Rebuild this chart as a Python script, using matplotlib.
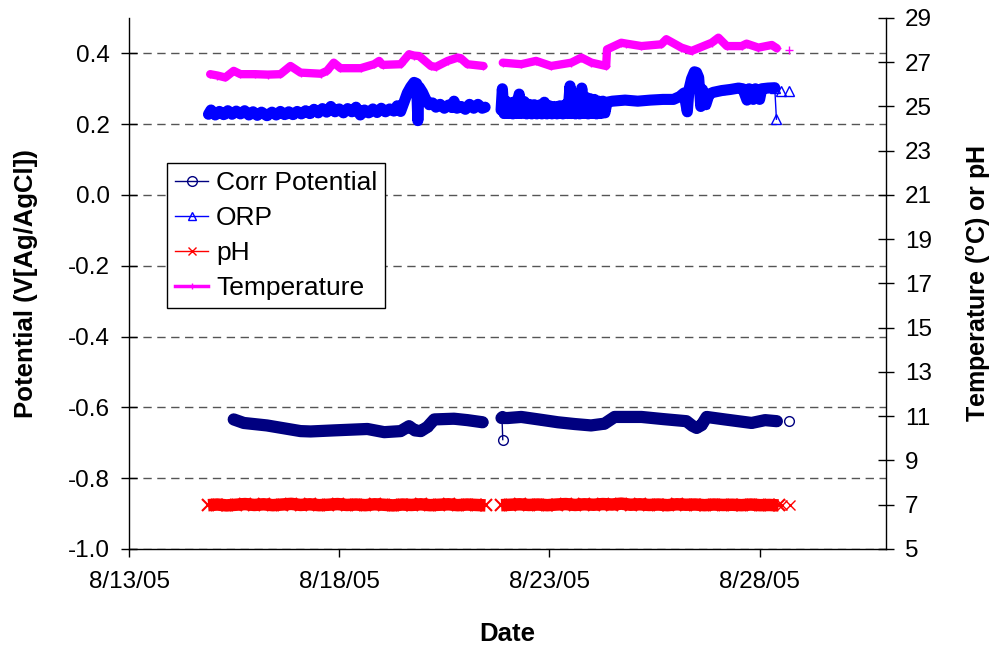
import numpy as np
import pandas as pd
import matplotlib
matplotlib.use("Agg")
import matplotlib.pyplot as plt
from matplotlib.lines import Line2D
from matplotlib.ticker import FixedLocator, FuncFormatter
import matplotlib.dates as mdates

plt.rcParams['font.family'] = ['Liberation Sans', 'DejaVu Sans']
plt.rcParams['axes.unicode_minus'] = False
plt.rcParams['mathtext.fontset'] = 'custom'
plt.rcParams['mathtext.rm'] = 'Liberation Sans'
plt.rcParams['mathtext.bf'] = 'Liberation Sans:bold'

# ---- logger data (time in days after 8/13/05 00:00) ----
START = pd.Timestamp('2005-08-13')

# Corrosion potential, V vs Ag/AgCl
corr_days_a = [2.49, 2.73, 3.28, 4.08, 4.32, 4.87, 5.67, 6.07, 6.46, 6.66, 6.80, 6.94,
               7.10, 7.26, 7.73, 8.05, 8.41]
corr_vals_a = [-0.634, -0.644, -0.651, -0.667, -0.668, -0.665, -0.661, -0.670, -0.667,
               -0.653, -0.665, -0.667, -0.655, -0.634, -0.632, -0.636, -0.642]
corr_days_b = [8.86, 9.01, 9.33, 9.80, 10.20, 10.60, 10.99, 11.31, 11.55, 12.19, 12.70,
               13.26, 13.40, 13.50, 13.62, 13.74, 14.17, 14.81, 15.13, 15.41]
corr_vals_b = [-0.630, -0.630, -0.627, -0.635, -0.642, -0.647, -0.651, -0.646, -0.627,
               -0.627, -0.633, -0.639, -0.652, -0.658, -0.650, -0.627, -0.634, -0.644,
               -0.636, -0.639]
corr_spike_days = [8.87, 8.89]
corr_spike_vals = [-0.624, -0.691]
corr_tail_days = [15.71]
corr_tail_vals = [-0.639]

# ORP, V vs Ag/AgCl
orp_days_a = [1.89, 1.95, 2.05, 2.15, 2.25, 2.35, 2.45, 2.55, 2.65, 2.75, 2.85, 2.95,
              3.05, 3.15, 3.28, 3.40, 3.50, 3.60, 3.70, 3.80, 3.90, 4.00, 4.10, 4.20,
              4.30, 4.40, 4.50, 4.60, 4.70, 4.80, 4.90, 5.00, 5.10, 5.20, 5.30, 5.40,
              5.50, 5.60, 5.70, 5.80, 5.90, 6.00, 6.10, 6.20, 6.30, 6.38, 6.46, 6.55,
              6.62, 6.70, 6.78, 6.84, 6.87, 6.90, 6.98, 7.05, 7.14, 7.22, 7.30, 7.40,
              7.50, 7.60, 7.68, 7.73, 7.80, 7.90, 8.00, 8.10, 8.20, 8.30, 8.40, 8.47]
orp_vals_a = [0.228, 0.240, 0.226, 0.236, 0.227, 0.238, 0.228, 0.237, 0.229, 0.238,
              0.226, 0.235, 0.225, 0.234, 0.224, 0.234, 0.226, 0.236, 0.227, 0.235,
              0.227, 0.236, 0.229, 0.238, 0.230, 0.242, 0.232, 0.244, 0.234, 0.250,
              0.235, 0.243, 0.232, 0.244, 0.235, 0.248, 0.226, 0.240, 0.232, 0.243,
              0.233, 0.245, 0.235, 0.243, 0.237, 0.252, 0.236, 0.265, 0.288, 0.305,
              0.318, 0.315, 0.210, 0.305, 0.290, 0.272, 0.255, 0.260, 0.248, 0.256,
              0.245, 0.254, 0.247, 0.265, 0.245, 0.250, 0.242, 0.256, 0.245, 0.256,
              0.245, 0.248]
orp_days_b = [8.85, 8.88, 8.92, 8.97, 9.02, 9.08, 9.13, 9.18, 9.23, 9.28, 9.33, 9.40,
              9.46, 9.52, 9.58, 9.64, 9.70, 9.76, 9.82, 9.88, 9.94, 10.00, 10.06, 10.12,
              10.18, 10.25, 10.32, 10.38, 10.44, 10.49, 10.52, 10.57, 10.62, 10.67,
              10.72, 10.77, 10.82, 10.87, 10.92, 10.97, 11.02, 11.07, 11.12, 11.17,
              11.22, 11.27, 11.32, 11.37, 11.50, 11.80, 12.10, 12.40, 12.70, 12.95,
              13.10, 13.20, 13.28, 13.32, 13.38, 13.45, 13.50, 13.55, 13.60, 13.64,
              13.67, 13.72, 13.80, 13.90, 14.10, 14.30, 14.50, 14.60, 14.70, 14.75,
              14.85, 14.90, 15.00, 15.05, 15.20, 15.36]
orp_vals_b = [0.240, 0.300, 0.230, 0.265, 0.230, 0.260, 0.229, 0.264, 0.230, 0.285,
              0.230, 0.264, 0.229, 0.256, 0.229, 0.255, 0.229, 0.254, 0.229, 0.262,
              0.229, 0.252, 0.229, 0.250, 0.229, 0.252, 0.229, 0.255, 0.230, 0.308,
              0.230, 0.272, 0.229, 0.274, 0.229, 0.302, 0.230, 0.276, 0.229, 0.272,
              0.230, 0.270, 0.229, 0.265, 0.230, 0.265, 0.232, 0.262, 0.265, 0.268,
              0.265, 0.268, 0.270, 0.270, 0.278, 0.288, 0.235, 0.298, 0.328, 0.348,
              0.346, 0.332, 0.250, 0.298, 0.265, 0.255, 0.285, 0.290, 0.295, 0.298,
              0.302, 0.300, 0.268, 0.300, 0.270, 0.300, 0.270, 0.300, 0.302, 0.303]
orp_drop_days = [15.36, 15.40]
orp_drop_vals = [0.303, 0.214]
orp_tail_days = [15.50, 15.70]
orp_tail_vals = [0.293, 0.293]

# pH
ph_days_a = [1.88, 2.10, 2.32, 2.54, 2.76, 2.98, 3.20, 3.42, 3.64, 3.86, 4.08, 4.30,
             4.52, 4.74, 4.96, 5.18, 5.40, 5.62, 5.84, 6.06, 6.28, 6.50, 6.72, 6.94,
             7.16, 7.38, 7.60, 7.82, 8.04, 8.26, 8.48]
ph_vals_a = [6.98, 7.01, 6.97, 7.00, 7.03, 6.99, 7.02, 6.98, 7.01, 7.04, 6.99, 7.02,
             6.98, 7.00, 7.03, 6.99, 7.01, 6.98, 7.02, 7.00, 6.97, 7.01, 6.99, 7.02,
             6.98, 7.00, 7.02, 6.98, 7.01, 6.99, 6.97]
ph_days_b = [8.85, 9.07, 9.29, 9.51, 9.73, 9.95, 10.17, 10.39, 10.61, 10.83, 11.05,
             11.27, 11.49, 11.71, 11.93, 12.15, 12.37, 12.59, 12.81, 13.03, 13.25,
             13.47, 13.69, 13.91, 14.13, 14.35, 14.57, 14.79, 15.01, 15.23, 15.45]
ph_vals_b = [6.98, 7.00, 7.02, 6.99, 7.01, 6.98, 7.01, 7.03, 6.99, 7.02, 7.00, 7.03,
             7.01, 7.05, 7.00, 7.02, 6.99, 7.01, 6.98, 7.02, 7.00, 7.01, 6.98, 7.01,
             6.99, 7.00, 6.98, 7.01, 6.98, 6.99, 6.97]
ph_tail_days = [15.53, 15.72]
ph_tail_vals = [6.97, 6.97]

# Temperature, deg C
temp_days_a = [1.93, 2.10, 2.29, 2.49, 2.65, 3.00, 3.30, 3.60, 3.84, 4.08, 4.56, 4.71,
               4.87, 5.03, 5.51, 5.83, 5.95, 6.03, 6.46, 6.66, 6.78, 6.90, 7.18, 7.30,
               7.58, 7.82, 7.89, 8.05, 8.43]
temp_vals_a = [26.46, 26.40, 26.31, 26.61, 26.46, 26.46, 26.44, 26.46, 26.83, 26.53,
               26.48, 26.61, 26.98, 26.73, 26.73, 26.91, 27.06, 26.88, 26.91, 27.36,
               27.30, 27.28, 26.83, 26.79, 27.06, 27.21, 27.18, 26.91, 26.83]
temp_days_b = [8.89, 9.33, 9.68, 10.04, 10.52, 10.76, 11.00, 11.35, 11.37, 11.71, 11.83,
               12.19, 12.66, 12.78, 13.14, 13.38, 13.86, 14.02, 14.22, 14.57, 14.69,
               14.97, 15.29, 15.41]
temp_vals_b = [26.98, 26.91, 27.06, 26.83, 26.98, 27.21, 26.98, 26.83, 27.58, 27.88,
               27.84, 27.73, 27.81, 28.04, 27.66, 27.51, 27.88, 28.11, 27.73, 27.73,
               27.84, 27.66, 27.78, 27.63]
temp_tail_days = [15.71]
temp_tail_vals = [27.54]

x_tick_days = [0, 5, 10, 15]
x_end_day = 18
left_ticks = [-1.0, -0.8, -0.6, -0.4, -0.2, 0.0, 0.2, 0.4]
right_ticks = list(range(5, 30, 2))


def t(days):
    return START + pd.to_timedelta(np.asarray(days, dtype=float), unit='D')


C_CORR, C_ORP, C_PH, C_TEMP = '#000080', '#0000FF', '#FF0000', '#FF00FF'

fig = plt.figure(figsize=(9.98, 6.49), dpi=100)
ax = fig.add_axes([0.1293, 0.1541, 0.8875 - 0.1293, 0.9723 - 0.1541])
ax2 = ax.twinx()

# --- left axis series ---
for d, v in [(corr_days_a, corr_vals_a), (corr_days_b, corr_vals_b)]:
    ax.plot(t(d), v, color=C_CORR, lw=8.8, solid_capstyle='round',
            solid_joinstyle='round', marker='o', ms=6, mfc='none', mec=C_CORR, mew=1)
ax.plot(t(corr_spike_days), corr_spike_vals, color=C_CORR, lw=1, marker='o', ms=7,
        mfc='none', mec=C_CORR, mew=1)
ax.plot(t(corr_tail_days), corr_tail_vals, ls='none', marker='o', ms=7, mfc='none',
        mec=C_CORR, mew=1)

for d, v in [(orp_days_a, orp_vals_a), (orp_days_b, orp_vals_b)]:
    ax.plot(t(d), v, color=C_ORP, lw=8, solid_joinstyle='round', solid_capstyle='round',
            marker='^', ms=5, mfc='none', mec=C_ORP, mew=1)
ax.plot(t(orp_drop_days), orp_drop_vals, color=C_ORP, lw=1, marker='^', ms=7,
        mfc='none', mec=C_ORP, mew=1)
ax.plot(t(orp_tail_days), orp_tail_vals, ls='none', marker='^', ms=7, mfc='none',
        mec=C_ORP, mew=1)

# --- right axis series ---
for d, v in [(ph_days_a, ph_vals_a), (ph_days_b, ph_vals_b)]:
    ax2.plot(t(d), v, color=C_PH, lw=9, solid_capstyle='butt',
             marker='x', ms=9, mec=C_PH, mew=1.5)
ax2.plot(t(ph_tail_days), ph_tail_vals, ls='none', marker='x', ms=7, mec=C_PH, mew=1)

for d, v in [(temp_days_a, temp_vals_a), (temp_days_b, temp_vals_b)]:
    ax2.plot(t(d), v, color=C_TEMP, lw=6, solid_capstyle='round',
             solid_joinstyle='round', marker='+', ms=6, mec=C_TEMP, mew=1)
ax2.plot(t(temp_tail_days), temp_tail_vals, ls='none', marker='+', ms=6, mec=C_TEMP, mew=1)

# --- axes ---
ax.set_xlim(t([0])[0], t([x_end_day])[0])
ax.set_ylim(-1.0, 0.5)
ax2.set_ylim(5, 29)

ax.xaxis.set_major_locator(FixedLocator([mdates.date2num(x) for x in t(x_tick_days)]))
ax.xaxis.set_major_formatter(FuncFormatter(
    lambda x, pos: (lambda d: f"{d.month}/{d.day}/{d:%y}")(mdates.num2date(x))))
ax.set_yticks(left_ticks)
ax.yaxis.set_major_formatter(FuncFormatter(lambda v, pos: f"{v:.1f}".replace('-0.0', '0.0')))
ax2.set_yticks(right_ticks)

ax.yaxis.grid(True, color='#555555', linestyle=(0, (6, 4)), linewidth=1)
ax.set_axisbelow(True)

for a in (ax, ax2):
    a.spines['top'].set_visible(False)
    for s in a.spines.values():
        s.set_linewidth(1)
ax2.spines['left'].set_visible(False)
ax2.spines['bottom'].set_visible(False)
ax.spines['right'].set_visible(False)

ax.tick_params(axis='y', direction='inout', length=12, width=1, labelsize=17.5, pad=8)
ax2.tick_params(axis='y', direction='inout', length=12, width=1, labelsize=17.5, pad=8)
ax.tick_params(axis='x', direction='out', length=6, width=1, labelsize=17.5, pad=10)

ax.set_xlabel('Date', fontsize=18.5, fontweight='bold', labelpad=21)
ax.set_ylabel('Potential (V[Ag/AgCl])', fontsize=18.5, fontweight='bold', labelpad=21)
ax2.set_ylabel(r'Temperature ($\mathbf{^o}$C) or pH', fontsize=18, fontweight='bold',
               labelpad=23, rotation=90)

handles = [
    Line2D([], [], color=C_CORR, lw=1, marker='o', ms=7, mfc='none', mec=C_CORR),
    Line2D([], [], color=C_ORP, lw=1, marker='^', ms=6, mfc='none', mec=C_ORP),
    Line2D([], [], color=C_PH, lw=1, marker='x', ms=6, mec=C_PH),
    Line2D([], [], color=C_TEMP, lw=2.5, marker='+', ms=5, mec=C_TEMP),
]
leg = ax2.legend(handles, ['Corr Potential', 'ORP', 'pH', 'Temperature'],
                 loc='upper left', bbox_to_anchor=(0.0503, 0.727), fontsize=19,
                 frameon=True, fancybox=False, edgecolor='black', framealpha=1,
                 borderpad=0.3, labelspacing=0.42, handlelength=1.25, handletextpad=0.3,
                 borderaxespad=0)
leg.get_frame().set_linewidth(1)

fig.savefig('out.png', dpi=100)
